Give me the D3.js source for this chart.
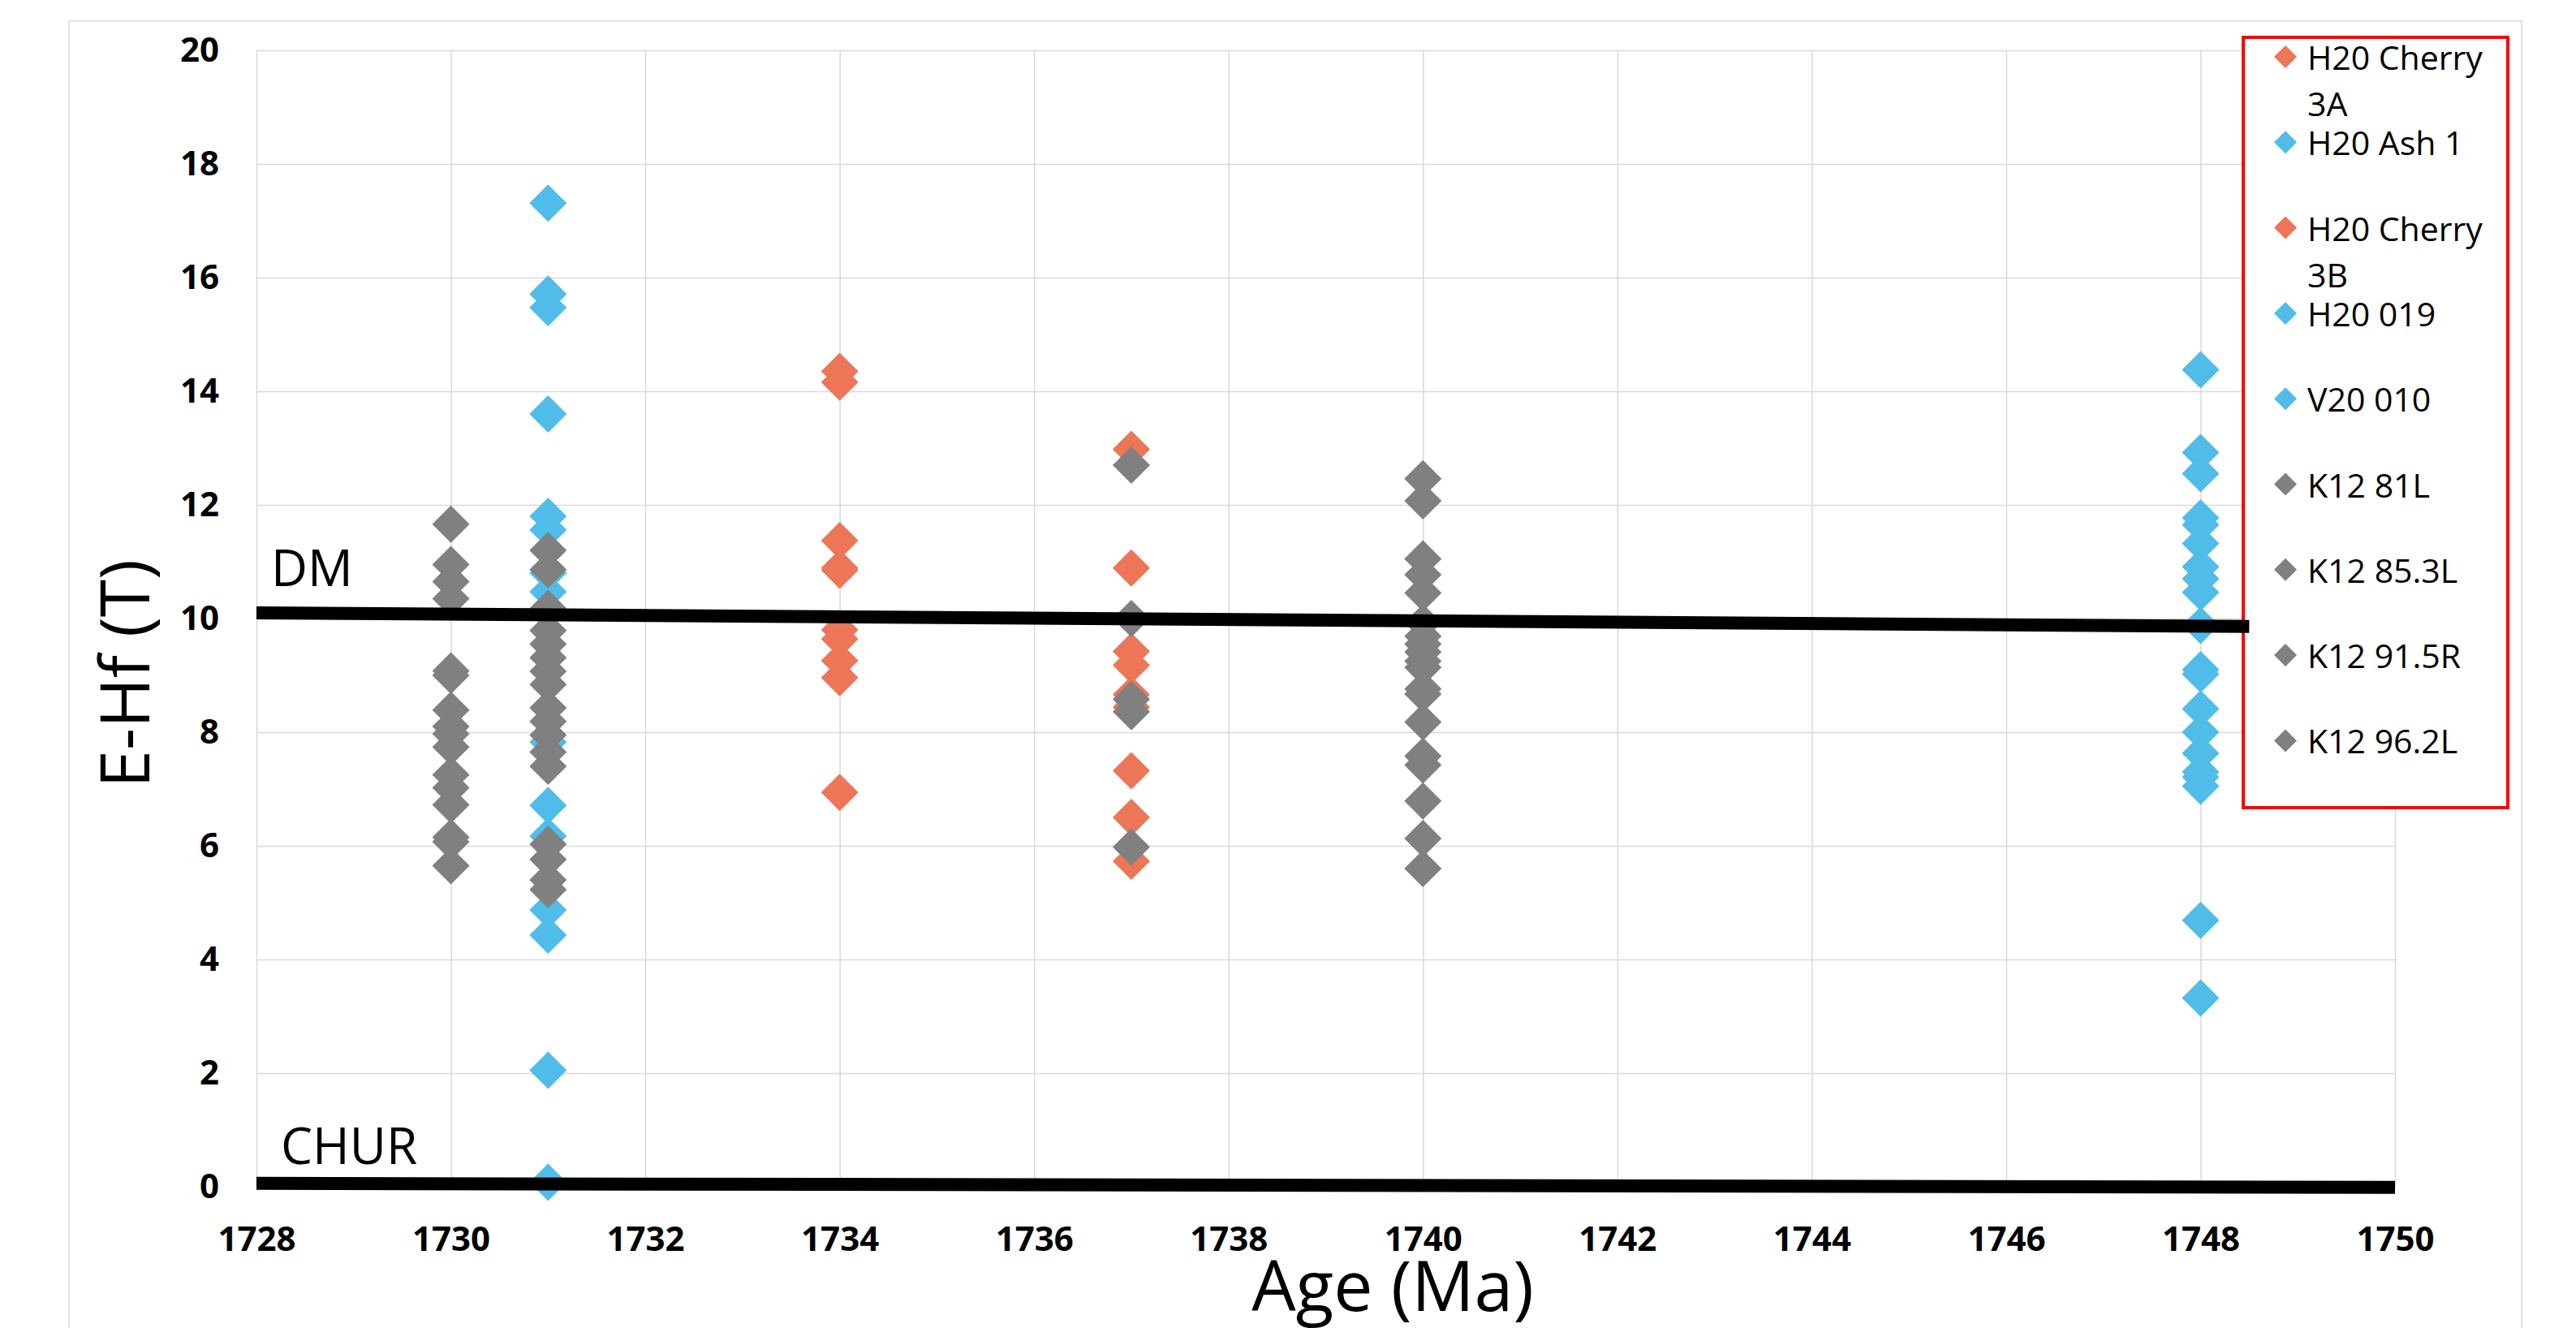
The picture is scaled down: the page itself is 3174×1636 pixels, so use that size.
<!DOCTYPE html>
<html>
<head>
<meta charset="utf-8">
<script src="https://cdn.jsdelivr.net/npm/d3@7"></script>
<style>
  body { margin: 0; background: #fff; }
  svg { display: block; font-family: 'Open Sans', sans-serif; }
</style>
</head>
<body>
<script>
// ticks
const ageTicks = [1728, 1730, 1732, 1734, 1736, 1738, 1740, 1742, 1744, 1746, 1748, 1750];
const ehfTicks = [0, 2, 4, 6, 8, 10, 12, 14, 16, 18, 20];

// series (E-Hf values), one age per series
const cherry3A = [14.35, 14.16, 11.37, 10.89, 10.85, 9.8, 9.64, 9.26, 8.96, 6.94];
const ash1 = [17.31, 15.71, 15.47, 13.6, 11.8, 11.56, 10.8, 10.47, 7.83];
const cherry3B = [12.98, 10.89, 9.42, 9.18, 8.66, 8.44, 7.32, 6.5, 5.73];
const h20_019 = [14.38, 12.92, 12.55, 11.77, 11.65, 11.32, 10.91, 10.7, 10.46, 9.88, 9.1, 9.02, 8.41, 8.0, 7.63, 7.3, 7.21, 7.05, 4.69, 3.32];
const v20_010 = [6.71, 6.17, 4.87, 4.43, 2.05, 0.08];
const k12_81L = [11.66, 10.95, 10.65, 10.35, 9.08, 9.0, 8.39, 8.1, 7.97, 7.74, 7.25, 7.02, 6.72, 6.15, 6.07, 5.65];
const k12_853L = [11.2, 10.86, 10.18, 9.79, 9.55, 9.31, 9.07, 8.84, 8.43, 8.19, 7.95, 7.65, 7.4, 6.03, 5.76, 5.4, 5.23];
const k12_915R = [12.7, 10.0, 8.58, 8.36, 5.98];
const k12_962L = [12.46, 12.07, 11.05, 10.77, 10.45, 9.93, 9.69, 9.55, 9.41, 9.25, 9.14, 8.76, 8.67, 8.18, 7.58, 7.42, 6.79, 6.13, 5.6];

const seriesNames = ['H20 Cherry 3A', 'H20 Ash 1', 'H20 Cherry 3B', 'H20 019', 'V20 010',
  'K12 81L', 'K12 85.3L', 'K12 91.5R', 'K12 96.2L'];
const seriesAges = [1734, 1731, 1737, 1748, 1731, 1730, 1731, 1737, 1740];
const seriesValues = [cherry3A, ash1, cherry3B, h20_019, v20_010, k12_81L, k12_853L, k12_915R, k12_962L];

// reference lines
const dmAges = [1728, 1748.5];
const dmValues = [10.10, 9.86];
const churAges = [1728, 1750];
const churValues = [0.06, -0.01];

const orange = '#ED7558', blue = '#50BCE9', grey = '#808080';
const seriesColors = [orange, blue, orange, blue, blue, grey, grey, grey, grey];

const W = 3174, H = 1636;
const plot = { left: 316, right: 2951, top: 62, bottom: 1462 };

const svg = d3.select('body').append('svg')
  .attr('width', W)
  .attr('height', H);

// chart border
svg.append('rect')
  .attr('x', 85).attr('y', 26)
  .attr('width', 3107 - 85).attr('height', H)
  .attr('fill', '#fff')
  .attr('stroke', '#D9D9D9')
  .attr('stroke-width', 1.5);

const x = d3.scaleLinear().domain([1728, 1750]).range([plot.left, plot.right]);
const y = d3.scaleLinear().domain([0, 20]).range([plot.bottom, plot.top]);

// y axis + horizontal grid
const yAxis = svg.append('g')
  .attr('transform', `translate(${plot.left},0)`)
  .call(d3.axisLeft(y).tickValues(ehfTicks).tickSize(-(plot.right - plot.left)).tickPadding(46));

// x axis + vertical grid
const xAxis = svg.append('g')
  .attr('transform', `translate(0,${plot.bottom})`)
  .call(d3.axisBottom(x).tickValues(ageTicks).tickFormat(d3.format('d'))
    .tickSize(-(plot.bottom - plot.top)).tickPadding(49));

[yAxis, xAxis].forEach(ax => {
  ax.select('.domain').remove();
  ax.selectAll('line').attr('stroke', '#D9D9D9').attr('stroke-width', 1.5);
  ax.selectAll('text')
    .attr('fill', '#000')
    .style('font-family', "'Open Sans', sans-serif")
    .style('font-size', '42px')
    .style('font-weight', 700);
});

// points
const diamond = r => `M0,${-r}L${r},0L0,${r}L${-r},0Z`;

seriesValues.forEach((vals, i) => {
  svg.append('g')
    .selectAll('path')
    .data(vals)
    .enter()
    .append('path')
    .attr('d', diamond(23))
    .attr('transform', d => `translate(${x(seriesAges[i])},${y(d)})`)
    .attr('fill', seriesColors[i]);
});

// legend
const legend = svg.append('g');
legend.append('rect')
  .attr('x', 2764).attr('y', 46)
  .attr('width', 3090 - 2764).attr('height', 995 - 46)
  .attr('fill', '#fff')
  .attr('stroke', '#FF0000')
  .attr('stroke-width', 4);

const entries = legend.selectAll('g.entry')
  .data(seriesNames)
  .enter()
  .append('g')
  .attr('class', 'entry')
  .attr('transform', (d, i) => `translate(2816,${86 + i * 105.3})`);

entries.append('path')
  .attr('d', diamond(14))
  .attr('transform', 'translate(0,-16)')
  .attr('fill', (d, i) => seriesColors[i]);

entries.append('text')
  .attr('x', 27)
  .style('font-size', '41px')
  .attr('fill', '#000')
  .each(function(d) {
    const t = d3.select(this);
    const words = d.split(' ');
    let line = [];
    let tspan = t.append('tspan').attr('x', 27).attr('dy', 0);
    words.forEach(w => {
      line.push(w);
      tspan.text(line.join(' '));
      if (tspan.node().getComputedTextLength() > 240 && line.length > 1) {
        line.pop();
        tspan.text(line.join(' '));
        line = [w];
        tspan = t.append('tspan').attr('x', 27).attr('dy', 57).text(w);
      }
    });
  });

// DM and CHUR lines
const line = d3.line().x(d => x(d[0])).y(d => y(d[1]));

svg.append('path')
  .datum(d3.zip(dmAges, dmValues))
  .attr('d', line)
  .attr('stroke', '#000')
  .attr('stroke-width', 16)
  .attr('fill', 'none');

svg.append('path')
  .datum(d3.zip(churAges, churValues))
  .attr('d', line)
  .attr('stroke', '#000')
  .attr('stroke-width', 16)
  .attr('fill', 'none');

svg.append('text')
  .attr('x', 334).attr('y', 722)
  .style('font-size', '62px')
  .text('DM');

svg.append('text')
  .attr('x', 346).attr('y', 1434)
  .style('font-size', '62px')
  .text('CHUR');

// axis titles
svg.append('text')
  .attr('x', 1716).attr('y', 1615)
  .attr('text-anchor', 'middle')
  .style('font-size', '86px')
  .text('Age (Ma)');

svg.append('text')
  .attr('transform', 'translate(184,830) rotate(-90)')
  .attr('text-anchor', 'middle')
  .style('font-size', '84px')
  .text('E-Hf (T)');
</script>
</body>
</html>
